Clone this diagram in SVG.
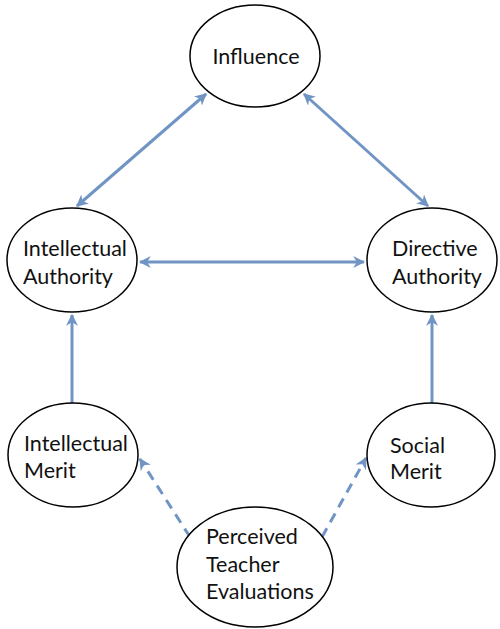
<svg xmlns="http://www.w3.org/2000/svg" width="500" height="629" viewBox="0 0 500 629">
<defs>
<marker id="ah" viewBox="0 0 10 10" refX="9" refY="5" markerWidth="4" markerHeight="4" orient="auto-start-reverse" markerUnits="strokeWidth">
<path d="M0,0 L10,5 L0,10 L3,5 z" fill="#7094c4"/>
</marker>
<style>
.n{fill:#fff;stroke:#000;stroke-width:1.5}
.t{font-family:Lato,"Open Sans",sans-serif;font-size:21.5px;fill:#111}
.c{stroke:#7094c4;stroke-width:3;fill:none}
.d{stroke-dasharray:10,7}
</style>
</defs>
<rect width="500" height="629" fill="#fff"/>
<g id="connectors">
<line class="c" x1="77" y1="206" x2="206" y2="94" marker-start="url(#ah)" marker-end="url(#ah)"/>
<line class="c" x1="304" y1="94" x2="428" y2="206" marker-start="url(#ah)" marker-end="url(#ah)"/>
<line class="c" x1="140" y1="262" x2="364" y2="262" marker-start="url(#ah)" marker-end="url(#ah)"/>
<line class="c" x1="72" y1="403" x2="72" y2="315" marker-end="url(#ah)"/>
<line class="c" x1="432" y1="403" x2="432" y2="315" marker-end="url(#ah)"/>
<line class="c d" x1="190" y1="537" x2="140" y2="459" marker-end="url(#ah)"/>
<line class="c d" x1="322" y1="537" x2="366" y2="458" marker-end="url(#ah)"/>
</g>
<g id="influence">
<ellipse class="n" cx="255" cy="56" rx="65" ry="51"/>
<text class="t" x="256" y="64" text-anchor="middle">Influence</text>
</g>
<g id="intellectual-authority">
<ellipse class="n" cx="72" cy="260" rx="65" ry="52"/>
<text class="t" x="23" y="256">Intellectual</text>
<text class="t" x="23" y="284">Authority</text>
</g>
<g id="directive-authority">
<ellipse class="n" cx="432" cy="260" rx="65" ry="52"/>
<text class="t" x="392" y="256">Directive</text>
<text class="t" x="392" y="284">Authority</text>
</g>
<g id="intellectual-merit">
<ellipse class="n" cx="73" cy="455" rx="65" ry="52"/>
<text class="t" x="24" y="451">Intellectual</text>
<text class="t" x="24" y="478">Merit</text>
</g>
<g id="social-merit">
<ellipse class="n" cx="431" cy="455" rx="64" ry="52"/>
<text class="t" x="390" y="453">Social</text>
<text class="t" x="390" y="479">Merit</text>
</g>
<g id="perceived-teacher-evaluations">
<ellipse class="n" cx="255" cy="567" rx="78" ry="60"/>
<text class="t" x="206" y="544">Perceived</text>
<text class="t" x="206" y="572">Teacher</text>
<text class="t" x="206" y="599">Evaluations</text>
</g>
</svg>
